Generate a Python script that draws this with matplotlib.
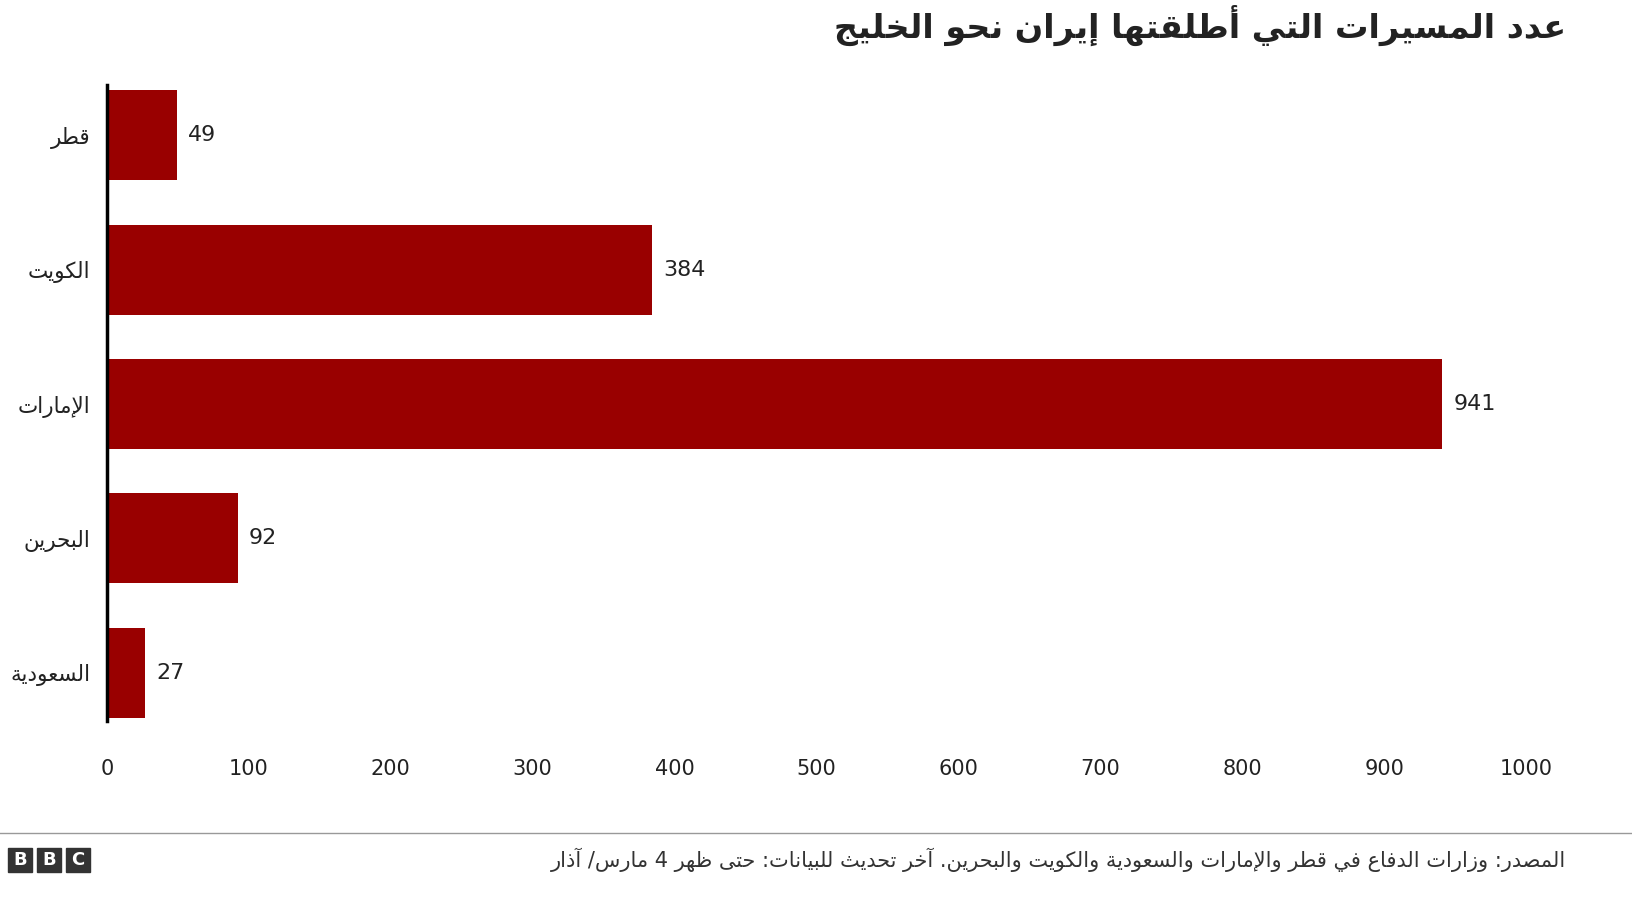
import matplotlib
matplotlib.use("Agg")
import matplotlib.pyplot as plt
from matplotlib.patches import Rectangle
import re

# ---- minimal Arabic shaping (presentation forms) + RTL ordering ----
FORMS = {
 'ء':(0xFE80,),'آ':(0xFE81,0xFE82),'أ':(0xFE83,0xFE84),'إ':(0xFE87,0xFE88),'ا':(0xFE8D,0xFE8E),
 'ب':(0xFE8F,0xFE90,0xFE91,0xFE92),'ة':(0xFE93,0xFE94),'ت':(0xFE95,0xFE96,0xFE97,0xFE98),
 'ث':(0xFE99,0xFE9A,0xFE9B,0xFE9C),'ج':(0xFE9D,0xFE9E,0xFE9F,0xFEA0),'ح':(0xFEA1,0xFEA2,0xFEA3,0xFEA4),
 'خ':(0xFEA5,0xFEA6,0xFEA7,0xFEA8),'د':(0xFEA9,0xFEAA),'ذ':(0xFEAB,0xFEAC),'ر':(0xFEAD,0xFEAE),
 'ز':(0xFEAF,0xFEB0),'س':(0xFEB1,0xFEB2,0xFEB3,0xFEB4),'ش':(0xFEB5,0xFEB6,0xFEB7,0xFEB8),
 'ص':(0xFEB9,0xFEBA,0xFEBB,0xFEBC),'ض':(0xFEBD,0xFEBE,0xFEBF,0xFEC0),'ط':(0xFEC1,0xFEC2,0xFEC3,0xFEC4),
 'ظ':(0xFEC5,0xFEC6,0xFEC7,0xFEC8),'ع':(0xFEC9,0xFECA,0xFECB,0xFECC),'غ':(0xFECD,0xFECE,0xFECF,0xFED0),
 'ف':(0xFED1,0xFED2,0xFED3,0xFED4),'ق':(0xFED5,0xFED6,0xFED7,0xFED8),'ك':(0xFED9,0xFEDA,0xFEDB,0xFEDC),
 'ل':(0xFEDD,0xFEDE,0xFEDF,0xFEE0),'م':(0xFEE1,0xFEE2,0xFEE3,0xFEE4),'ن':(0xFEE5,0xFEE6,0xFEE7,0xFEE8),
 'ه':(0xFEE9,0xFEEA,0xFEEB,0xFEEC),'و':(0xFEED,0xFEEE),'ى':(0xFEEF,0xFEF0),'ي':(0xFEF1,0xFEF2,0xFEF3,0xFEF4),
}
LAMALEF = {'آ':(0xFEF5,0xFEF6),'أ':(0xFEF7,0xFEF8),'إ':(0xFEF9,0xFEFA),'ا':(0xFEFB,0xFEFC)}

def shape(s):
    toks = []
    i = 0
    while i < len(s):
        if s[i] == 'ل' and i + 1 < len(s) and s[i+1] in LAMALEF:
            toks.append(('LA', s[i+1])); i += 2
        else:
            toks.append(('C', s[i])); i += 1
    def dual(t):
        return t[0] == 'C' and t[1] in FORMS and len(FORMS[t[1]]) == 4
    def arab(t):
        return t[0] == 'LA' or t[1] in FORMS
    out = []
    for k, t in enumerate(toks):
        prev_j = k > 0 and dual(toks[k-1])
        if t[0] == 'LA':
            out.append(chr(LAMALEF[t[1]][1 if prev_j else 0])); continue
        c = t[1]
        if c not in FORMS:
            out.append(c); continue
        f = FORMS[c]
        next_j = len(f) == 4 and k + 1 < len(toks) and arab(toks[k+1])
        if len(f) == 1:
            out.append(chr(f[0]))
        elif len(f) == 2:
            out.append(chr(f[1] if prev_j else f[0]))
        else:
            if prev_j and next_j: idx = 3
            elif prev_j: idx = 1
            elif next_j: idx = 2
            else: idx = 0
            out.append(chr(f[idx]))
    res = ''.join(out)[::-1]
    return re.sub(r'\d+', lambda m: m.group(0)[::-1], res)

# ---- data ----
countries = ["قطر", "الكويت", "الإمارات", "البحرين", "السعودية"]
values = [49, 384, 941, 92, 27]
xticks = [0, 100, 200, 300, 400, 500, 600, 700, 800, 900, 1000]
title = "عدد المسيرات التي أطلقتها إيران نحو الخليج"
source = "المصدر: وزارات الدفاع في قطر والإمارات والسعودية والكويت والبحرين. آخر تحديث للبيانات: حتى ظهر 4 مارس/ آذار"

plt.rcParams['font.family'] = ['DejaVu Sans']
fig = plt.figure(figsize=(16.32, 9.22), dpi=100)
ax = fig.add_axes([107/1632, 1-740/922, (1526-107)/1632, (740-68)/922])
ypos = list(range(len(countries)))
ax.barh(ypos, values, height=0.67, color='#990000')
ax.set_ylim(len(countries)-0.5, -0.5)
ax.set_xlim(0, 1000)
ax.set_yticks(ypos)
ax.set_yticklabels([shape(c) for c in countries], fontsize=15.5, color='#222222')
ax.set_xticks(xticks)
ax.set_xticklabels([str(t) for t in xticks], fontsize=15, color='#222222')
ax.tick_params(axis='both', length=0)
ax.tick_params(axis='x', pad=14)
ax.tick_params(axis='y', pad=12)
for s in ['top', 'right', 'bottom']:
    ax.spines[s].set_visible(False)
ax.spines['left'].set_linewidth(2.5)
ax.spines['left'].set_color('black')
ax.spines['left'].set_bounds(-0.37, 4.36)
for y, v in zip(ypos, values):
    ax.text(v + 8, y, str(v), va='center', ha='left', fontsize=16, color='#222222')

fig.text(1566/1632, 1-25/922, shape(title), ha='right', va='center', fontsize=24,
         fontweight='bold', color='#222222')
fig.add_artist(plt.Line2D([0, 1], [1-833/922, 1-833/922], color='#999999', lw=1))
fig.text(1566/1632, 1-860/922, shape(source), ha='right', va='center', fontsize=15, color='#333333')
for i, L in enumerate("BBC"):
    x0 = (8 + i*29)/1632
    fig.add_artist(Rectangle((x0, 1-872/922), 24/1632, 24/922, color='#333333',
                             transform=fig.transFigure))
    fig.text(x0 + 12/1632, 1-860/922, L, ha='center', va='center', color='white',
             fontsize=13, fontweight='bold')
fig.savefig('out.png', dpi=100, facecolor='white')
